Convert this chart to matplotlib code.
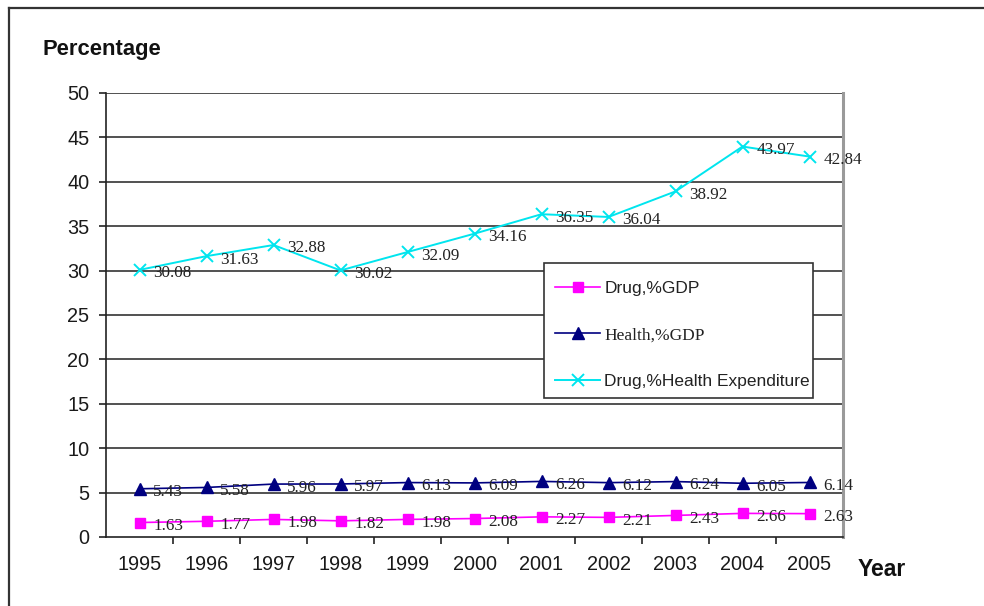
import matplotlib
matplotlib.use("Agg")
import matplotlib.pyplot as plt
from matplotlib.lines import Line2D
from matplotlib.patches import Rectangle

years = ["1995", "1996", "1997", "1998", "1999", "2000", "2001", "2002", "2003", "2004", "2005"]
drug_gdp = [1.63, 1.77, 1.98, 1.82, 1.98, 2.08, 2.27, 2.21, 2.43, 2.66, 2.63]
health_gdp = [5.43, 5.58, 5.96, 5.97, 6.13, 6.09, 6.26, 6.12, 6.24, 6.05, 6.14]
drug_health = [30.08, 31.63, 32.88, 30.02, 32.09, 34.16, 36.35, 36.04, 38.92, 43.97, 42.84]
yticks = list(range(0, 55, 5))

W, H = 984, 606
fig = plt.figure(figsize=(W / 100, H / 100), dpi=100)
fig.patch.set_facecolor("white")

# outer frame (open to the right and bottom)
fig.add_artist(Line2D([9 / W, 9 / W], [0, 1 - 8 / H], transform=fig.transFigure,
                      color="#333333", lw=1.6))
fig.add_artist(Line2D([9 / W, 1], [1 - 8 / H, 1 - 8 / H], transform=fig.transFigure,
                      color="#333333", lw=1.6))

left, right, top, bottom = 106, 843, 93, 537
ax = fig.add_axes([left / W, 1 - bottom / H, (right - left) / W, (bottom - top) / H])

x = list(range(len(years)))
sans = "Liberation Sans"
serif = "Liberation Serif"

ax.plot(x, drug_gdp, color="#ff00ff", lw=1.2, marker="s", ms=7.5, mec="#ff00ff",
        label="Drug,%GDP", zorder=3)
ax.plot(x, health_gdp, color="#000080", lw=1.2, marker="^", ms=8.5, mec="#000080",
        label="Health,%GDP", zorder=3)
ax.plot(x, drug_health, color="#00e5ee", lw=1.4, marker="x", ms=9, mew=1.4,
        label="Drug,%Health Expenditure", zorder=3)

for series in (drug_gdp, health_gdp, drug_health):
    for xi, v in zip(x, series):
        ax.annotate(f"{v:.2f}", (xi, v), xytext=(10, -2.5), textcoords="offset points",
                    ha="left", va="center", fontsize=12.3, family=serif,
                    color="#222222", zorder=4)

ax.set_xlim(-0.5, len(years) - 0.5)
ax.set_ylim(0, 50)
ax.set_yticks(yticks)
ax.set_yticklabels([str(t) for t in yticks], fontsize=14.3, family=sans, color="#1a1a1a")
ax.set_xticks(x)
ax.set_xticklabels(years, fontsize=14.3, family=sans, color="#1a1a1a")
ax.set_xticks([i + 0.5 for i in x[:-1]], minor=True)
ax.tick_params(axis="x", which="major", length=0, pad=13)
ax.tick_params(axis="x", which="minor", length=5, width=1.2, color="#222222", direction="out")
ax.tick_params(axis="y", length=5, width=1.2, color="#222222", direction="out", pad=7)

for y in yticks[1:]:
    ax.axhline(y, color="#333333", lw=1.2, zorder=1)

ax.spines["top"].set_visible(False)
ax.spines["left"].set_color("#222222")
ax.spines["left"].set_linewidth(1.2)
ax.spines["bottom"].set_color("#222222")
ax.spines["bottom"].set_linewidth(1.2)
ax.spines["right"].set_color("#9a9a9a")
ax.spines["right"].set_linewidth(2.2)

fig.text(43 / W, 1 - 50 / H, "Percentage", fontsize=15.8, fontweight="bold", family=sans,
         va="center", ha="left", color="#111111")
fig.text(858 / W, 1 - 570 / H, "Year", fontsize=16.5, fontweight="bold", family=sans,
         va="center", ha="left", color="#111111")

# legend box drawn separately so its padding can differ per side
box = Rectangle((544 / W, 1 - 398 / H), (813 - 544) / W, (398 - 263) / H,
                transform=fig.transFigure, facecolor="white", edgecolor="#333333",
                lw=1.2, zorder=4.5, clip_on=False)
ax.add_patch(box)

leg = ax.legend(loc="upper left", bbox_to_anchor=(555 / W, 1 - 281 / H),
                bbox_transform=fig.transFigure, frameon=False,
                fontsize=12.5, handlelength=2.6, labelspacing=1.78,
                borderpad=0, handletextpad=0.25, borderaxespad=0)
for t in leg.get_texts():
    t.set_family(sans)
    t.set_color("#222222")
leg.get_texts()[1].set_family(serif)
leg.set_zorder(5)

fig.savefig("out.png", dpi=100, facecolor="white")
